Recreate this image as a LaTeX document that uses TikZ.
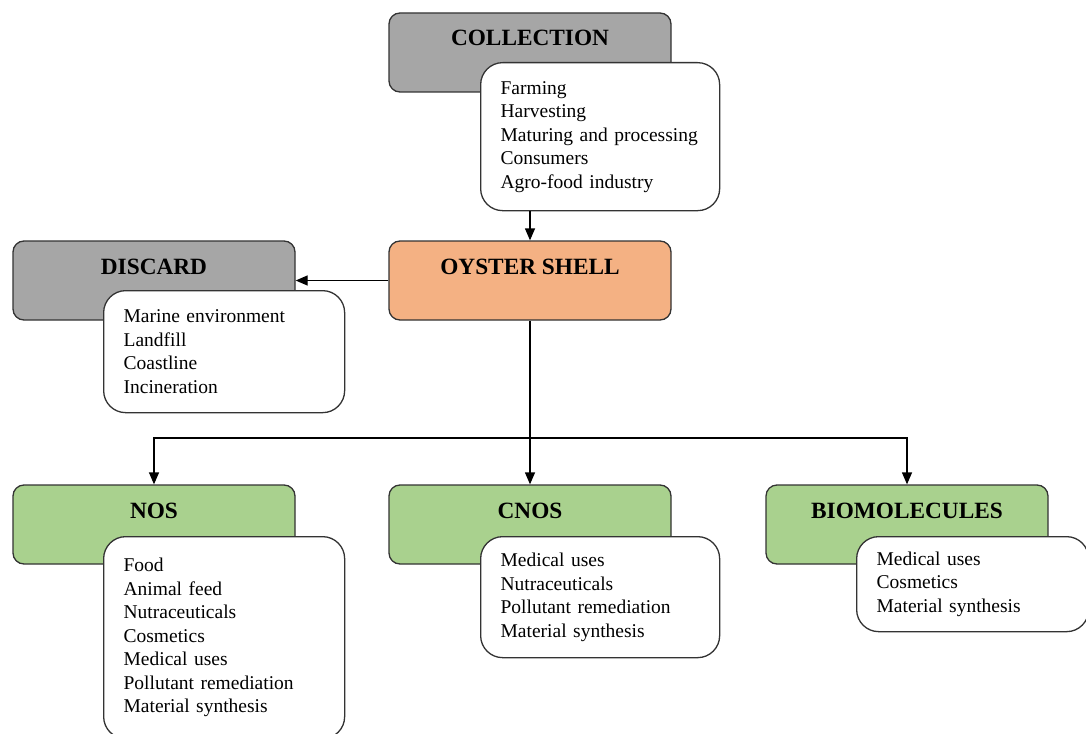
\documentclass[tikz,border=0pt]{standalone}
\usepackage{fontspec}
\setmainfont{Liberation Serif}
\usetikzlibrary{arrows.meta}
\definecolor{shellgray}{RGB}{166,166,166}
\definecolor{shellorange}{RGB}{244,177,131}
\definecolor{shellgreen}{RGB}{169,209,142}
\begin{document}
\begin{tikzpicture}[x=1pt,y=-1pt,
	headbox/.style={draw=black!80,line width=1.3pt,rounded corners=11pt,minimum width=282pt,minimum height=79pt,inner sep=0pt,text height=33pt,text depth=46pt,font=\fontsize{23.3}{28}\selectfont\bfseries},
	listbox/.style={draw=black!80,fill=white,line width=1.3pt,rounded corners=22pt,anchor=north west,inner xsep=20pt,inner ysep=0pt,align=left,font=\fontsize{19.5}{23.5}\selectfont},
	flow/.style={line width=1.3pt,-{Triangle[length=12pt,width=10pt]}}]
				\clip (0,0) rectangle (1086,733);
				\node [headbox,fill=shellgray] (collection) at (530,52.5) {COLLECTION};
				\node [listbox,text width=199pt,minimum height=148pt] (collist) at (480,62) {Farming\\Harvesting\\Maturing and processing\\Consumers\\Agro-food industry};
				\node [headbox,fill=shellorange] (oyster) at (530,280.5) {OYSTER SHELL};
				\node [headbox,fill=shellgray] (discard) at (154,280.5) {DISCARD};
				\node [listbox,text width=201pt,minimum height=122pt] (discardlist) at (103,290) {Marine environment\\Landfill\\Coastline\\Incineration};
				\node [headbox,fill=shellgreen] (nos) at (154,524.5) {NOS};
				\node [listbox,text width=201pt,minimum height=202pt] (noslist) at (103,536) {Food\\Animal feed\\Nutraceuticals\\Cosmetics\\Medical uses\\Pollutant remediation\\Material synthesis};
				\node [headbox,fill=shellgreen] (cnos) at (530,524.5) {CNOS};
				\node [listbox,text width=199pt,minimum height=121pt] (cnoslist) at (480,536) {Medical uses\\Nutraceuticals\\Pollutant remediation\\Material synthesis};
				\node [headbox,fill=shellgreen] (bio) at (907,524.5) {BIOMOLECULES};
				\node [listbox,text width=192pt,minimum height=95pt] (biolist) at (856,536) {Medical uses\\Cosmetics\\Material synthesis};
				\coordinate (bus) at (530,438);
				\draw [flow] (collist.south -| oyster.north) -- (oyster.north);
				\draw [flow] (oyster.west) -- (discard.east);
				\draw [flow] (oyster.south) -- (cnos.north);
				\draw [flow] (bus) -| (nos.north);
				\draw [flow] (bus) -| (bio.north);
			\end{tikzpicture}
\end{document}
